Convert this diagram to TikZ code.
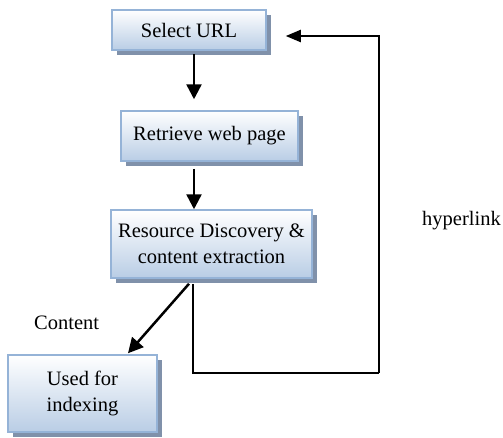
\documentclass[tikz,border=0pt]{standalone}
\usepackage{fontspec}
\setmainfont{Liberation Serif}
\usetikzlibrary{arrows.meta,calc,shadows}
\tikzset{>={Triangle[length=15pt,width=15pt]}}
\definecolor{boxline}{RGB}{149,179,215}
\definecolor{boxfill}{RGB}{185,205,229}
\definecolor{boxshadow}{RGB}{128,145,170}

\begin{document}
\begin{tikzpicture}[x=1pt,y=-1pt,
    stepbox/.style={rectangle, draw=boxline, line width=1.5pt, top color=white, bottom color=boxfill,
        drop shadow={shadow xshift=5pt, shadow yshift=-5pt, fill=boxshadow, opacity=1},
        align=center, inner sep=0pt, font=\fontsize{20.5}{26}\selectfont},
    flow/.style={->, line width=2.5pt},
    txt/.style={font=\fontsize{20.5}{26}\selectfont, inner sep=0pt}]
                \useasboundingbox (0,0) rectangle (503,437);

                % boxes
                \node[stepbox, minimum width=154pt, minimum height=40pt] (sel) at (189, 30) {Select URL};
                \node[stepbox, minimum width=177pt, minimum height=50pt] (ret) at (209.5, 136) {Retrieve web page};
                \node[stepbox, minimum width=201pt, minimum height=68pt] (res) at (211.5, 244) {Resource Discovery \&\\content extraction};
                \node[stepbox, minimum width=149pt, minimum height=77pt] (use) at (82.5, 393.5) {Used for\\indexing};

                % labels
                \node[txt, anchor=west] (cont) at (34, 323) {Content};
                \node[txt, anchor=west] (hyp) at (422, 221) {hyperlink};

                % helper points
                \coordinate (s1) at ($(sel.south)+(5,3)$);
                \coordinate (s2) at ($(ret.north)+(0,-11)$);
                \coordinate (r1) at ($(ret.south)+(0,7)$);
                \coordinate (d1) at ($(res.south)+(-22.5,5)$);
                \coordinate (d2) at ($(use.north)+(45.5,-1)$);
                \coordinate (f1) at ($(res.south)+(-18.5,5)$);
                \coordinate (corner) at (379, 373);

                % arrows
                \draw[flow] (s1) -- (s1 |- s2);
                \draw[flow] (s1 |- r1) -- (s1 |- res.north);
                \draw[flow] (d1) -- (d2);
                % feedback loop
                \draw[line width=2pt] (f1) |- (corner);
                \draw[line width=2pt, -{Triangle[length=15pt,width=12pt]}] (corner) |- ($(sel.east)+(19,6)$);
\end{tikzpicture}
\end{document}
